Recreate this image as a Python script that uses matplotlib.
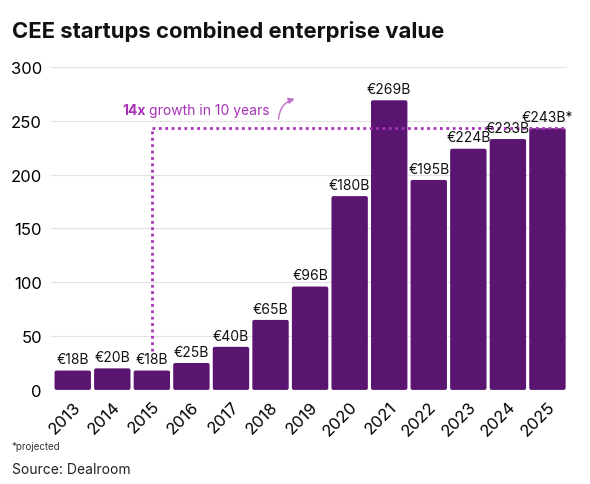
import matplotlib.pyplot as plt
from matplotlib.patches import FancyArrowPatch, FancyBboxPatch
from matplotlib.transforms import offset_copy

years = ['2013', '2014', '2015', '2016', '2017', '2018', '2019',
         '2020', '2021', '2022', '2023', '2024', '2025']
values = [18, 20, 18, 25, 40, 65, 96, 180, 269, 195, 224, 233, 243]
labels = ['€18B', '€20B', '€18B', '€25B', '€40B', '€65B', '€96B',
          '€180B', '€269B', '€195B', '€224B', '€233B', '€243B*']

plt.rcParams['font.family'] = ['Inter', 'DejaVu Sans']

bar_col = '#5a1571'
line_col = '#a832b8'

fig = plt.figure(figsize=(5.9, 4.85), dpi=100)
ax = fig.add_axes([0.0864, 0.194, 0.875, 0.666])

x = list(range(len(years)))
bars = ax.bar(x, values, width=0.92, color=bar_col, zorder=2)
# swap the plain rectangles for slightly rounded ones
for b in bars:
    bx, by = b.get_xy()
    rb = FancyBboxPatch((bx, by), b.get_width(), b.get_height(),
                        boxstyle='round,pad=0,rounding_size=0.05', mutation_aspect=36,
                        fc=bar_col, ec='none', zorder=2)
    b.remove()
    ax.add_patch(rb)
for i, v in enumerate(values):
    ax.text(i, v + 4, labels[i], ha='center', va='bottom', fontsize=10, color='#111111', zorder=4)

# growth marker: from 2015 up to the 2025 level
ax.plot([2, 2], [values[2] + 18, values[-1]], color=line_col, lw=2, ls=(0, (1, 1.3)), zorder=3)
ax.plot([2, 12.45], [values[-1], values[-1]], color=line_col, lw=2, ls=(0, (1, 1.3)), zorder=3)
t1 = ax.text(1.25, 260, '14x', fontsize=10, fontweight='bold', color=line_col, va='center')
fig.canvas.draw()
w = t1.get_window_extent().width
ax.text(1.25, 260, 'growth in 10 years', fontsize=10, color=line_col, va='center',
        transform=offset_copy(ax.transData, fig=fig, x=w + 3, y=0, units='dots'))
arr = FancyArrowPatch((5.2, 249), (5.68, 271), connectionstyle='arc3,rad=-0.4',
                      arrowstyle='-|>', mutation_scale=9, color='#c070c8', lw=1)
ax.add_patch(arr)

ax.set_xlim(-0.55, 12.5)
ax.set_ylim(0, 300)
ax.set_yticks([0, 50, 100, 150, 200, 250, 300])
ax.set_xticks(x)
ax.set_xticklabels(years, rotation=45, ha='right', rotation_mode='anchor', fontsize=12)
ax.tick_params(axis='y', labelsize=12, length=0, pad=6.5)
ax.tick_params(axis='x', length=0, pad=6)
ax.grid(axis='y', color='#e2e2e2', lw=0.8, zorder=0)
ax.set_axisbelow(True)
for s in ax.spines.values():
    s.set_visible(False)

fig.text(0.02, 0.922, 'CEE startups combined enterprise value', fontsize=15.9, fontweight='bold', color='#111111')
fig.text(0.02, 0.072, '*projected', fontsize=7, color='#333333')
fig.text(0.02, 0.022, 'Source: Dealroom', fontsize=10, color='#222222')

fig.savefig('out.png', dpi=100)
